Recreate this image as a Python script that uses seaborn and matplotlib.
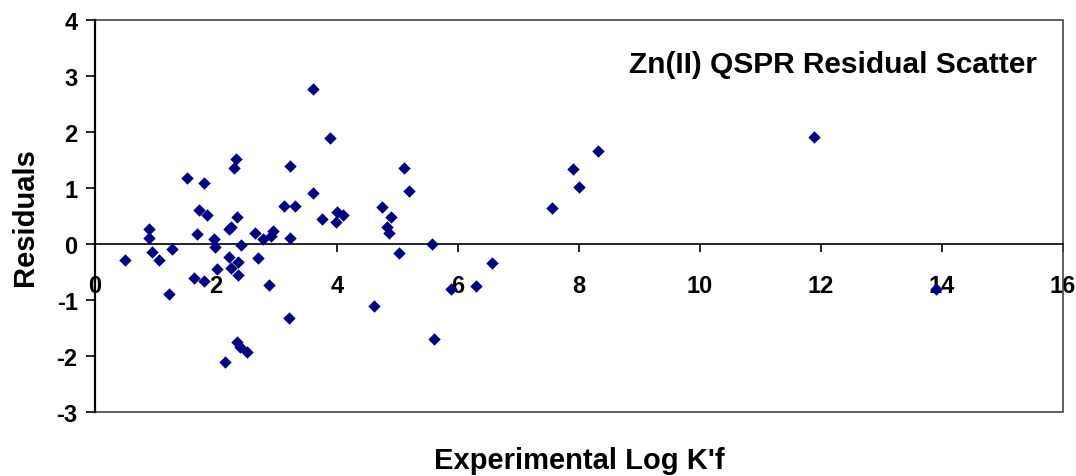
import matplotlib
matplotlib.use("Agg")
import matplotlib.pyplot as plt
import seaborn as sns
import pandas as pd
from matplotlib.patches import Rectangle

log_kf = [0.50, 0.90, 0.90, 0.95, 1.06, 1.22, 1.27, 1.52, 1.64, 1.69,
          1.72, 1.80, 1.80, 1.85, 1.97, 1.98, 2.01, 2.15, 2.21, 2.22,
          2.25, 2.25, 2.30, 2.33, 2.34, 2.35, 2.37, 2.37, 2.40, 2.41,
          2.51, 2.65, 2.70, 2.78, 2.87, 2.91, 2.94, 3.12, 3.20, 3.23,
          3.23, 3.31, 3.60, 3.60, 3.76, 3.89, 3.98, 4.00, 4.10, 4.61,
          4.75, 4.82, 4.86, 4.90, 5.02, 5.11, 5.19, 5.58, 5.61, 5.88,
          6.30, 6.57, 7.55, 7.91, 8.00, 8.31, 11.89, 13.90]
residuals = [-0.29, 0.26, 0.10, -0.14, -0.29, -0.89, -0.09, 1.17, -0.61, 0.17,
             0.60, 1.08, -0.67, 0.51, 0.09, -0.06, -0.46, -2.12, 0.26, -0.23,
             0.29, -0.43, 1.36, 1.51, -1.76, 0.48, -0.32, -0.55, -1.85, -0.02,
             -1.93, 0.19, -0.26, 0.09, -0.73, 0.13, 0.23, 0.68, -1.32, 1.39,
             0.11, 0.68, 2.76, 0.91, 0.45, 1.88, 0.39, 0.57, 0.51, -1.12,
             0.65, 0.29, 0.20, 0.48, -0.17, 1.36, 0.94, -0.01, -1.70, -0.81,
             -0.75, -0.35, 0.63, 1.34, 1.02, 1.66, 1.91, -0.81]
x_ticks = [0, 2, 4, 6, 8, 10, 12, 14, 16]
y_ticks = [-3, -2, -1, 0, 1, 2, 3, 4]
title_text = "Zn(II) QSPR Residual Scatter"
x_label = "Experimental Log K'f"
y_label = "Residuals"

sns.set_theme(style="white")
plt.rcParams['font.family'] = ['Liberation Sans', 'DejaVu Sans']

df = pd.DataFrame({"x": log_kf, "y": residuals})

fig = plt.figure(figsize=(10.76, 4.77), dpi=100)
ax = fig.add_axes([95 / 1076, 1 - 412.7 / 477, 967.7 / 1076, 392 / 477])

sns.scatterplot(data=df, x="x", y="y", marker="D", color="#000080",
                s=40, linewidth=0, ax=ax, zorder=4, clip_on=False)

ax.set_xlim(0, 16)
ax.set_ylim(-3, 4)
ax.set_xticks(x_ticks)
ax.set_yticks(y_ticks)
ax.set_xticklabels([str(t) for t in x_ticks])
ax.set_yticklabels([str(t) for t in y_ticks])

for s in ["top", "right"]:
    ax.spines[s].set_visible(False)
ax.spines["bottom"].set_position(("data", 0))
ax.spines["bottom"].set_color("black")
ax.spines["bottom"].set_linewidth(1.2)
ax.spines["left"].set_color("black")
ax.spines["left"].set_linewidth(1.6)
ax.spines["left"].set_zorder(3)

ax.add_patch(Rectangle((0, 0), 1, 1, transform=ax.transAxes, fill=False,
                       edgecolor="#444444", linewidth=1.2, clip_on=False, zorder=2))

ax.tick_params(axis="x", direction="out", length=5.8, width=1.2, color="black",
               pad=16, labelsize=17, bottom=True)
ax.tick_params(axis="y", direction="out", length=6.5, width=1.2, color="black",
               pad=6, labelsize=17, left=True)
for lab in ax.get_xticklabels() + ax.get_yticklabels():
    lab.set_fontweight("bold")
    lab.set_color("black")

ax.set_xlabel(x_label, fontsize=21, fontweight="bold", color="black")
ax.set_ylabel(y_label, fontsize=21, fontweight="bold", color="black")
ax.xaxis.set_label_coords(0.5, -0.088)
ax.yaxis.set_label_coords(-0.058, 0.5)

ax.text(0.9734, 0.888, title_text, transform=ax.transAxes, ha="right",
        va="center", fontsize=21.5, fontweight="bold", color="black")

fig.savefig("out.png", dpi=100, facecolor="white")
